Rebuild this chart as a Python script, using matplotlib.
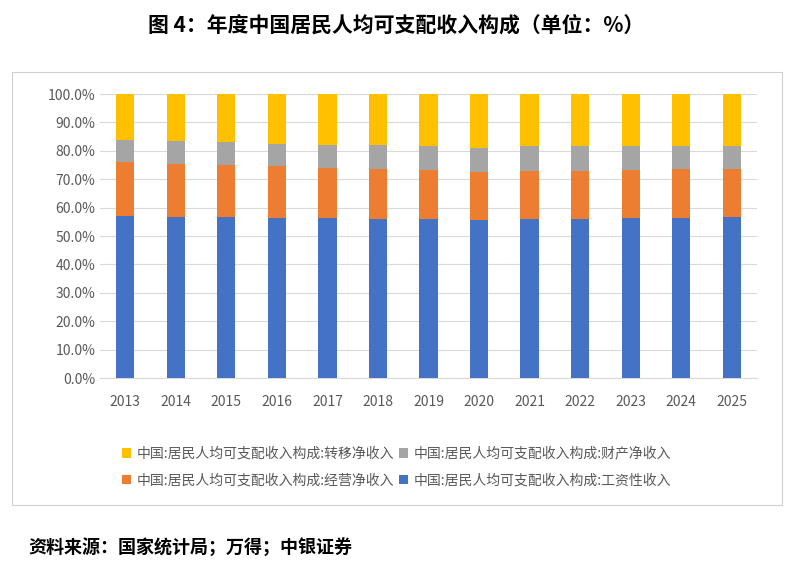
import matplotlib.pyplot as plt
from matplotlib.patches import Rectangle
from matplotlib.ticker import PercentFormatter

plt.rcParams['font.family'] = ['Noto Sans CJK SC', 'DejaVu Sans']

years = [str(y) for y in range(2013, 2026)]
wage = [57.0, 56.8, 56.7, 56.5, 56.3, 56.1, 55.9, 55.7, 55.9, 55.9, 56.2, 56.5, 56.6]
oper_top = [76.1, 75.4, 75.0, 74.6, 73.9, 73.6, 73.2, 72.5, 72.9, 72.9, 73.2, 73.6, 73.6]
prop_top = [83.8, 83.5, 83.1, 82.4, 82.0, 82.0, 81.7, 81.0, 81.7, 81.7, 81.7, 81.7, 81.7]

oper = [o - w for o, w in zip(oper_top, wage)]
prop = [p - o for p, o in zip(prop_top, oper_top)]
trans = [100 - p for p in prop_top]

fig = plt.figure(figsize=(7.93, 5.68), dpi=100)
fig.text(0.5, 0.955, '图 4：年度中国居民人均可支配收入构成（单位：%）', ha='center', va='center',
         fontsize=15, fontweight='bold')
fig.patches.append(Rectangle((12/793, 1-505/568), 770/793, 433/568, transform=fig.transFigure,
                             fill=False, ec='#d0d0d0', lw=0.8))

ax = fig.add_axes([100/793, 1-378/568, 657/793, 284/568])
x = range(len(years))
w = 0.36
ax.bar(x, wage, w, color='#4472c4', label='中国:居民人均可支配收入构成:工资性收入', zorder=3)
ax.bar(x, oper, w, bottom=wage, color='#ed7d31', label='中国:居民人均可支配收入构成:经营净收入', zorder=3)
ax.bar(x, prop, w, bottom=oper_top, color='#a5a5a5', label='中国:居民人均可支配收入构成:财产净收入', zorder=3)
ax.bar(x, trans, w, bottom=prop_top, color='#ffc000', label='中国:居民人均可支配收入构成:转移净收入', zorder=3)

ax.set_ylim(0, 100)
ax.set_xlim(-0.5, len(years) - 0.5)
ax.set_yticks(range(0, 101, 10))
ax.yaxis.set_major_formatter(PercentFormatter(decimals=1))
ax.set_xticks(list(x))
ax.set_xticklabels(years)
ax.grid(axis='y', color='#d9d9d9', lw=0.8, zorder=0)
for s in ['top', 'right', 'left']:
    ax.spines[s].set_visible(False)
ax.spines['bottom'].set_color('#d9d9d9')
ax.tick_params(axis='y', length=0, labelsize=10, colors='#595959')
ax.tick_params(axis='x', length=0, labelsize=10, colors='#595959', pad=12)

h, l = ax.get_legend_handles_labels()
order = [3, 1, 2, 0]
fig.legend([h[i] for i in order], [l[i] for i in order], loc='center', ncol=2,
           bbox_to_anchor=(0.5, 1-467/568), frameon=False, fontsize=10,
           labelcolor='#595959', handlelength=0.7, handleheight=0.7,
           columnspacing=0.3, handletextpad=0.4, labelspacing=0.9)

fig.text(28/793, 1-548/568, '资料来源：国家统计局；万得；中银证券', ha='left', va='center',
         fontsize=13, fontweight='bold')

fig.savefig('out.png', dpi=100)
